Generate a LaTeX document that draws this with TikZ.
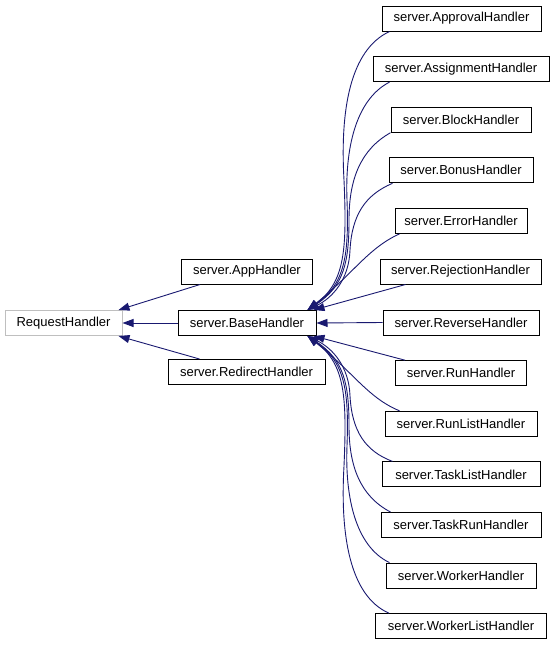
\documentclass[tikz,border=0pt]{standalone}
\usepackage{fontspec}
\setmainfont{Liberation Sans}
\usetikzlibrary{arrows.meta}
\definecolor{edgeblue}{HTML}{191970}
\definecolor{boxgray}{HTML}{BFBFBF}
\tikzset{
  cls/.style={draw=black, line width=1pt, fill=white, rectangle, minimum height=25pt, inner sep=0pt, font=\fontsize{13}{15}\selectfont},
  ext/.style={cls, draw=boxgray},
  inh/.style={draw=edgeblue, line width=0.9pt, -{Triangle[length=11pt,width=8pt]}, fill=none},
}
\begin{document}
\begin{tikzpicture}[x=1pt,y=-1pt]
\useasboundingbox (0,0) rectangle (555,645);
\node[ext, minimum width=117pt] (req) at (63.5,323) {RequestHandler};
\node[cls, minimum width=138pt] (base) at (247,323) {server.BaseHandler};
\node[cls, minimum width=131pt] (app) at (247,271.5) {server.AppHandler};
\node[cls, minimum width=157pt] (redir) at (246.5,372) {server.RedirectHandler};

\node[cls, minimum width=159pt] (appr) at (461.5,18.5) {server.ApprovalHandler};
\node[cls, minimum width=176pt] (assign) at (461,69.1) {server.AssignmentHandler};
\node[cls, minimum width=140pt] (block) at (461,119.7) {server.BlockHandler};
\node[cls, minimum width=144pt] (bonus) at (461,170.3) {server.BonusHandler};
\node[cls, minimum width=132pt] (error) at (461,220.9) {server.ErrorHandler};
\node[cls, minimum width=161pt] (reject) at (460.5,271.5) {server.RejectionHandler};
\node[cls, minimum width=156pt] (reverse) at (461,322.5) {server.ReverseHandler};
\node[cls, minimum width=131pt] (run) at (461,373.2) {server.RunHandler};
\node[cls, minimum width=152pt] (runlist) at (461,423.8) {server.RunListHandler};
\node[cls, minimum width=158pt] (tasklist) at (461,474.4) {server.TaskListHandler};
\node[cls, minimum width=160pt] (taskrun) at (461,525) {server.TaskRunHandler};
\node[cls, minimum width=150pt] (worker) at (461,575.6) {server.WorkerHandler};
\node[cls, minimum width=171pt] (workerlist) at (461,626.2) {server.WorkerListHandler};

\coordinate (tipU) at ([xshift=-9pt]base.north east);
\coordinate (tipL) at ([xshift=-9pt]base.south east);
\coordinate (tipRU) at ([xshift=-3pt]base.north east);
\coordinate (tipRL) at ([xshift=-3pt]base.south east);

% left side
\draw[inh] ([xshift=19pt]app.south west) -- ([xshift=-4pt]req.north east);
\draw[inh] (base.west) -- (req.east);
\draw[inh] ([xshift=32pt]redir.north west) -- ([xshift=-4pt]req.south east);

% upper children
\draw[inh] ([xshift=8pt]appr.south west) .. controls (350,50) and (340,110) .. (344,180) .. controls (347,250) and (345,282) .. (tipU);
\draw[inh] ([xshift=17pt]assign.south west) .. controls (355,100) and (345,150) .. (347,200) .. controls (349,255) and (345,284) .. (tipU);
\draw[inh] ([xshift=0pt]block.south west) .. controls (360,150) and (349,180) .. (349,220) .. controls (349,262) and (344,286) .. (tipU);
\draw[inh] ([xshift=4pt]bonus.south west) .. controls (365,195) and (352,215) .. (350,250) .. controls (349,280) and (332,298) .. (tipU);
\draw[inh] ([xshift=5pt]error.south west) .. controls (368,248) and (352,275) .. (tipU);
\draw[inh] ([xshift=26pt]reject.south west) -- (tipRU);
\draw[inh] (reverse.west) -- (base.east);
% lower children
\draw[inh] ([xshift=10pt]run.north west) -- (tipRL);
\draw[inh] ([xshift=15pt]runlist.north west) .. controls (368,398) and (352,371) .. (tipL);
\draw[inh] ([xshift=11pt]tasklist.north west) .. controls (365,451) and (352,431) .. (350,396) .. controls (349,366) and (332,348) .. (tipL);
\draw[inh] ([xshift=10pt]taskrun.north west) .. controls (360,496) and (349,466) .. (349,426) .. controls (349,384) and (344,360) .. (tipL);
\draw[inh] ([xshift=4pt]worker.north west) .. controls (355,546) and (345,496) .. (347,446) .. controls (349,391) and (345,362) .. (tipL);
\draw[inh] ([xshift=14pt]workerlist.north west) .. controls (350,596) and (340,536) .. (344,466) .. controls (347,396) and (345,364) .. (tipL);
\end{tikzpicture}
\end{document}
